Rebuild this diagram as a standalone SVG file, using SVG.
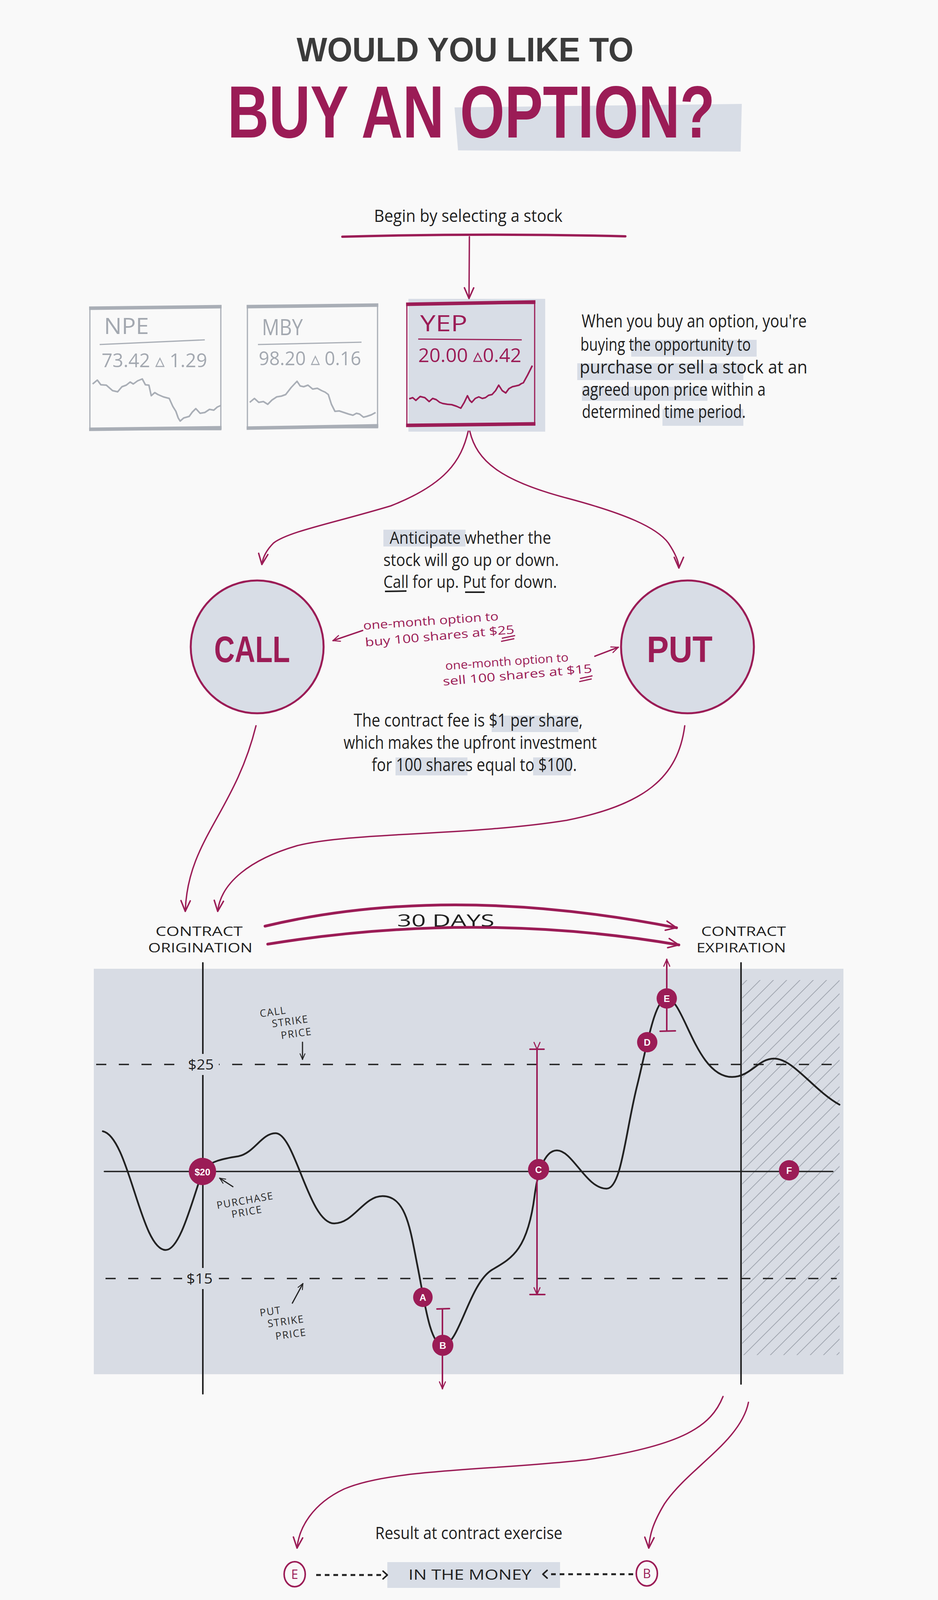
<svg xmlns="http://www.w3.org/2000/svg" width="2400" height="5216" viewBox="0 0 2400 5216">
<defs>
<style>
.hand{font-family:"Open Sans","Liberation Sans",sans-serif;fill:#1f1f1f;}
.mag{fill:#9b1c56;}
.hl{fill:#d8dde6;}
.mline{fill:none;stroke:#9b1c56;stroke-linecap:round;stroke-linejoin:round;}
.kline{fill:none;stroke:#222;stroke-linecap:round;stroke-linejoin:round;}
.gbox{fill:none;stroke:#a9aeb6;stroke-width:3;}
.gtxt{font-family:"Open Sans","Liberation Sans",sans-serif;fill:#a3a8b0;}
.cap{font-family:"Liberation Sans",sans-serif;font-weight:bold;}
.small{font-family:"Open Sans","Liberation Sans",sans-serif;fill:#2a2a2a;font-size:26px;letter-spacing:2px;}
.dot{fill:#9b1c56;}
.dott{font-family:"Liberation Sans",sans-serif;font-weight:bold;fill:#fff;font-size:24px;text-anchor:middle;}
.oc{fill:none;stroke:#9b1c56;stroke-width:4;}
.oct{font-family:"Open Sans","Liberation Sans",sans-serif;fill:#9b1c56;font-size:32px;text-anchor:middle;}
.res{font-family:"Open Sans","Liberation Sans",sans-serif;fill:#1f1f1f;font-size:36px;}
.dash{fill:none;stroke:#222;stroke-width:5;stroke-dasharray:12 10;}
.foot{font-family:Lato,"Open Sans","Liberation Sans",sans-serif;font-weight:300;fill:#1f1f1f;font-size:44px;}
</style>
<marker id="av" viewBox="0 0 20 20" refX="18" refY="10" markerWidth="34" markerHeight="34" markerUnits="userSpaceOnUse" orient="auto">
<path d="M2,3 L18,10 L2,17" fill="none" stroke="#9b1c56" stroke-width="2.2" stroke-linecap="round" stroke-linejoin="round"/>
</marker>
<marker id="avs" viewBox="0 0 20 20" refX="18" refY="10" markerWidth="22" markerHeight="22" markerUnits="userSpaceOnUse" orient="auto">
<path d="M2,3 L18,10 L2,17" fill="none" stroke="#9b1c56" stroke-width="2.5" stroke-linecap="round" stroke-linejoin="round"/>
</marker>
<marker id="ak" viewBox="0 0 20 20" refX="18" refY="10" markerWidth="18" markerHeight="18" markerUnits="userSpaceOnUse" orient="auto">
<path d="M2,3 L18,10 L2,17" fill="none" stroke="#222" stroke-width="2.5" stroke-linecap="round" stroke-linejoin="round"/>
</marker>
<pattern id="hatch" patternUnits="userSpaceOnUse" width="34" height="34">
<path d="M0,34 L34,0 M-4,4 L4,-4 M30,38 L38,30" stroke="#a3a8b2" stroke-width="2"/>
</pattern>
<pattern id="hatch2" patternUnits="userSpaceOnUse" width="26" height="26">
<path d="M0,26 L26,0 M-4,4 L4,-4 M22,30 L30,22" stroke="#c3c8d1" stroke-width="2"/>
</pattern>
</defs>

<rect x="0" y="0" width="2400" height="5216" fill="#f9f9f9"/>

<g id="title">
<text class="cap" x="759" y="157" font-size="88" fill="#3b3b3b" textLength="862" lengthAdjust="spacingAndGlyphs">WOULD YOU LIKE TO</text>
<polygon class="hl" points="1163,275 1898,266 1895,388 1172,385"/>
<text class="cap mag" x="582" y="352" font-size="190" textLength="1247" lengthAdjust="spacingAndGlyphs">BUY AN OPTION?</text>
</g>

<g id="begin">
<text class="hand" x="957" y="568" font-size="44" textLength="482" lengthAdjust="spacingAndGlyphs">Begin by selecting a stock</text>
</g>

<g id="stock-npe">
<rect class="gbox" x="230" y="787" width="335" height="313"/>
<path d="M228,789 L567,785 M228,1099 L567,1095" stroke="#a9aeb6" stroke-width="9" fill="none"/>
<text class="gtxt" x="266" y="855" font-size="56" textLength="115" lengthAdjust="spacingAndGlyphs">NPE</text>
<path d="M255,882 L524,870" stroke="#a9aeb6" stroke-width="3" fill="none"/>
<text class="gtxt" x="260" y="940" font-size="50" textLength="270" lengthAdjust="spacingAndGlyphs">73.42 ▵ 1.29</text>
<polyline fill="none" stroke="#a9aeb6" stroke-width="4" stroke-linejoin="round" points="237,983 249,973 258,985 272,986 288,1000 301,1003 312,990 323,986 333,978 341,983 352,975 364,970 372,985 381,986 387,1013 396,1005 404,1010 418,1016 433,1020 442,1040 450,1053 456,1070 461,1078 470,1070 484,1066 492,1055 501,1046 512,1058 524,1056 536,1048 547,1050 556,1042 565,1038"/>
</g>

<g id="stock-mby">
<rect class="gbox" x="633" y="783" width="333" height="312"/>
<path d="M631,785 L968,781 M631,1096 L968,1090" stroke="#a9aeb6" stroke-width="9" fill="none"/>
<text class="gtxt" x="670" y="858" font-size="56" textLength="105" lengthAdjust="spacingAndGlyphs">MBY</text>
<path d="M660,882 L925,876" stroke="#a9aeb6" stroke-width="3" fill="none"/>
<text class="gtxt" x="662" y="935" font-size="50" textLength="262" lengthAdjust="spacingAndGlyphs">98.20 ▵ 0.16</text>
<polyline fill="none" stroke="#a9aeb6" stroke-width="4" stroke-linejoin="round" points="639,1030 651,1020 662,1030 674,1028 685,1035 696,1024 708,1016 720,1014 731,1010 745,992 760,976 768,988 777,990 788,986 800,996 812,994 823,1000 832,1004 840,1010 848,1035 857,1053 868,1052 880,1056 892,1060 903,1063 912,1058 920,1060 930,1068 938,1066 950,1062 961,1056"/>
</g>

<g id="stock-yep">
<rect class="hl" x="1045" y="765" width="350" height="340"/>
<rect x="1041" y="777" width="327" height="311" fill="none" stroke="#9b1c56" stroke-width="3"/>
<path d="M1039,779 L1370,773 M1039,1089 L1370,1085" stroke="#9b1c56" stroke-width="9" fill="none"/>
<text class="gtxt" x="1075" y="848" font-size="56" style="fill:#9b1c56" textLength="121" lengthAdjust="spacingAndGlyphs">YEP</text>
<path d="M1070,868 L1335,870" stroke="#9b1c56" stroke-width="3" fill="none"/>
<text class="gtxt" x="1070" y="927" font-size="50" style="fill:#9b1c56" textLength="264" lengthAdjust="spacingAndGlyphs">20.00 ▵0.42</text>
<polyline fill="none" stroke="#9b1c56" stroke-width="4" stroke-linejoin="round" points="1047,1021 1056,1018 1064,1025 1075,1015 1087,1018 1098,1028 1107,1020 1116,1023 1125,1030 1133,1033 1145,1035 1156,1036 1168,1040 1179,1045 1188,1030 1196,1013 1202,1025 1207,1030 1216,1020 1225,1016 1234,1020 1242,1018 1250,1012 1259,1010 1268,1000 1276,986 1285,1000 1294,1006 1302,995 1311,990 1320,988 1328,986 1334,982 1339,980 1350,960 1362,936"/>
</g>

<g id="intro-text">
<rect class="hl" x="1615" y="870" width="321" height="43"/>
<rect class="hl" x="1477" y="930" width="425" height="43"/>
<rect class="hl" x="1489" y="990" width="321" height="36"/>
<rect class="hl" x="1695" y="1047" width="207" height="43"/>
<text class="hand" x="1488" y="838" font-size="46" textLength="576" lengthAdjust="spacingAndGlyphs">When you buy an option, you're</text>
<text class="hand" x="1485" y="898" font-size="46" textLength="436" lengthAdjust="spacingAndGlyphs">buying the opportunity to</text>
<text class="hand" x="1483" y="956" font-size="46" textLength="583" lengthAdjust="spacingAndGlyphs">purchase or sell a stock at an</text>
<text class="hand" x="1489" y="1013" font-size="46" textLength="470" lengthAdjust="spacingAndGlyphs">agreed upon price within a</text>
<text class="hand" x="1489" y="1070" font-size="46" textLength="419" lengthAdjust="spacingAndGlyphs">determined time period.</text>
</g>

<g id="anticipate">
<rect class="hl" x="981" y="1356" width="210" height="43"/>
<text class="hand" x="997" y="1392" font-size="44" textLength="413" lengthAdjust="spacingAndGlyphs">Anticipate whether the</text>
<text class="hand" x="981" y="1449" font-size="44" textLength="449" lengthAdjust="spacingAndGlyphs">stock will go up or down.</text>
<text class="hand" x="981" y="1505" font-size="44" textLength="444" lengthAdjust="spacingAndGlyphs">Call for up. Put for down.</text>
<path d="M985,1514 L1040,1513 M1190,1516 L1240,1516" stroke="#1f1f1f" stroke-width="4" fill="none"/>
</g>

<g id="call-node">
<circle cx="658" cy="1656" r="170" fill="#d8dde6" stroke="#9b1c56" stroke-width="5"/>
<text class="cap mag" x="548" y="1695" font-size="94" textLength="194" lengthAdjust="spacingAndGlyphs">CALL</text>
</g>

<g id="put-node">
<circle cx="1759" cy="1656" r="170" fill="#d8dde6" stroke="#9b1c56" stroke-width="5"/>
<text class="cap mag" x="1655" y="1695" font-size="94" textLength="168" lengthAdjust="spacingAndGlyphs">PUT</text>
</g>

<g id="call-note">
<text class="hand mag" x="930" y="1612" font-size="30" transform="rotate(-4 930 1612)" textLength="347" lengthAdjust="spacingAndGlyphs">one-month option to</text>
<text class="hand mag" x="935" y="1655" font-size="30" transform="rotate(-5 935 1655)" textLength="383" lengthAdjust="spacingAndGlyphs">buy 100 shares at $25</text>
<path d="M1284,1634 L1318,1627 M1282,1642 L1316,1635" stroke="#9b1c56" stroke-width="3" fill="none"/>
</g>

<g id="put-note">
<text class="hand mag" x="1140" y="1715" font-size="30" transform="rotate(-4 1140 1715)" textLength="316" lengthAdjust="spacingAndGlyphs">one-month option to</text>
<text class="hand mag" x="1134" y="1755" font-size="30" transform="rotate(-5 1134 1755)" textLength="383" lengthAdjust="spacingAndGlyphs">sell 100 shares at $15</text>
<path d="M1484,1737 L1516,1730 M1482,1745 L1514,1738" stroke="#9b1c56" stroke-width="3" fill="none"/>
</g>

<g id="fee-text">
<rect class="hl" x="1258" y="1832" width="222" height="42"/>
<rect class="hl" x="1012" y="1939" width="184" height="46"/>
<rect class="hl" x="1364" y="1939" width="97" height="46"/>
<text class="hand" x="905" y="1860" font-size="46" textLength="586" lengthAdjust="spacingAndGlyphs">The contract fee is $1 per share,</text>
<text class="hand" x="879" y="1917" font-size="46" textLength="648" lengthAdjust="spacingAndGlyphs">which makes the upfront investment</text>
<text class="hand" x="951" y="1974" font-size="46" textLength="525" lengthAdjust="spacingAndGlyphs">for 100 shares equal to $100.</text>
</g>

<g id="timeline-labels">
<text class="hand" x="398" y="2396" font-size="32" textLength="223" lengthAdjust="spacingAndGlyphs">CONTRACT</text>
<text class="hand" x="379" y="2438" font-size="32" textLength="267" lengthAdjust="spacingAndGlyphs">ORIGINATION</text>
<text class="hand" x="1794" y="2396" font-size="32" textLength="217" lengthAdjust="spacingAndGlyphs">CONTRACT</text>
<text class="hand" x="1782" y="2438" font-size="32" textLength="229" lengthAdjust="spacingAndGlyphs">EXPIRATION</text>
<text class="hand" x="1016" y="2372" font-size="44" textLength="249" lengthAdjust="spacingAndGlyphs">30 DAYS</text>
</g>

<g id="chart">
<rect x="240" y="2480" width="1918" height="1038" fill="#d8dce4"/>
<rect x="1899" y="2509" width="249" height="960" fill="url(#hatch)"/>
<line class="kline" x1="519" y1="2465" x2="519" y2="3568" stroke-width="4"/>
<line class="kline" x1="1896" y1="2465" x2="1896" y2="3543" stroke-width="4"/>
<line class="kline" x1="267" y1="2999" x2="2131" y2="2999" stroke-width="3.5"/>
<line x1="246" y1="2725" x2="2141" y2="2725" stroke="#222" stroke-width="3.5" stroke-dasharray="26 32"/>
<line x1="270" y1="3273" x2="2141" y2="3273" stroke="#222" stroke-width="3.5" stroke-dasharray="26 32"/>
<rect x="470" y="2698" width="90" height="54" fill="#d8dce4"/>
<rect x="466" y="3246" width="90" height="54" fill="#d8dce4"/>
<text class="hand" x="481" y="2738" font-size="36" textLength="66" lengthAdjust="spacingAndGlyphs">$25</text>
<text class="hand" x="477" y="3286" font-size="36" textLength="67" lengthAdjust="spacingAndGlyphs">$15</text>
<path class="kline" stroke-width="4.5" d="M263,2896 C330,2910 360,3200 424,3200 C460,3200 490,3080 518,2999 C530,2975 570,2966 610,2960 C650,2952 670,2901 705,2901 C755,2901 790,3132 855,3132 C905,3132 930,3062 979,3062 C1040,3062 1050,3150 1068,3240 C1086,3330 1100,3444 1133,3444 C1175,3444 1200,3285 1260,3250 C1310,3221 1350,3200 1368,3060 C1374,3013 1390,2945 1425,2945 C1465,2945 1500,3043 1552,3043 C1590,3043 1600,2900 1630,2780 C1655,2680 1675,2556 1706,2556 C1750,2556 1780,2757 1873,2757 C1920,2757 1940,2710 1980,2710 C2030,2710 2080,2790 2148,2828"/>
<text class="small" x="666" y="2604" transform="rotate(-8 666 2604)">CALL</text>
<text class="small" x="697" y="2630" transform="rotate(-8 697 2630)">STRIKE</text>
<text class="small" x="720" y="2660" transform="rotate(-8 720 2660)">PRICE</text>
<line class="kline" x1="774" y1="2668" x2="774" y2="2712" stroke-width="3" marker-end="url(#ak)"/>
<text class="small" x="556" y="3095" transform="rotate(-10 556 3095)">PURCHASE</text>
<text class="small" x="594" y="3118" transform="rotate(-10 594 3118)">PRICE</text>
<line class="kline" x1="596" y1="3038" x2="562" y2="3016" stroke-width="3" marker-end="url(#ak)"/>
<text class="small" x="666" y="3370" transform="rotate(-8 666 3370)">PUT</text>
<text class="small" x="686" y="3398" transform="rotate(-8 686 3398)">STRIKE</text>
<text class="small" x="706" y="3430" transform="rotate(-8 706 3430)">PRICE</text>
<line class="kline" x1="748" y1="3336" x2="775" y2="3286" stroke-width="3" marker-end="url(#ak)"/>
</g>

<g id="range-markers">
<line class="mline" x1="1132" y1="3351" x2="1132" y2="3555" stroke-width="4" marker-end="url(#avs)"/>
<line class="mline" x1="1118" y1="3351" x2="1150" y2="3350" stroke-width="4"/>
<line class="mline" x1="1374" y1="2686" x2="1374" y2="3314" stroke-width="4" marker-start="url(#avs)" marker-end="url(#avs)"/>
<line class="mline" x1="1356" y1="2686" x2="1392" y2="2686" stroke-width="4"/>
<line class="mline" x1="1356" y1="3314" x2="1394" y2="3314" stroke-width="4"/>
<line class="mline" x1="1706" y1="2639" x2="1706" y2="2456" stroke-width="4" marker-end="url(#avs)"/>
<line class="mline" x1="1689" y1="2640" x2="1728" y2="2639" stroke-width="4"/>
</g>

<g id="point-20"><circle class="dot" cx="518" cy="2999" r="35"/><text class="dott" x="518" y="3009" font-size="28">$20</text></g>
<g id="point-a"><circle class="dot" cx="1082" cy="3321" r="25"/><text class="dott" x="1082" y="3330">A</text></g>
<g id="point-b"><circle class="dot" cx="1133" cy="3444" r="27"/><text class="dott" x="1133" y="3453">B</text></g>
<g id="point-c"><circle class="dot" cx="1378" cy="2994" r="27"/><text class="dott" x="1378" y="3003">C</text></g>
<g id="point-d"><circle class="dot" cx="1656" cy="2668" r="26"/><text class="dott" x="1656" y="2677">D</text></g>
<g id="point-e"><circle class="dot" cx="1706" cy="2556" r="26"/><text class="dott" x="1706" y="2565">E</text></g>
<g id="point-f"><circle class="dot" cx="2019" cy="2996" r="26"/><text class="dott" x="2019" y="3005">F</text></g>

<g id="connectors">
<path class="mline" stroke-width="6" d="M876,606 Q1240,596 1600,605"/>
<line class="mline" x1="1201" y1="606" x2="1200" y2="764" stroke-width="3.5" marker-end="url(#av)"/>
<path class="mline" stroke-width="3.5" d="M1198,1104 C1180,1180 1140,1240 1000,1295 C850,1340 740,1360 700,1390 C680,1410 672,1430 670,1445" marker-end="url(#av)"/>
<path class="mline" stroke-width="3.5" d="M1202,1104 C1220,1180 1280,1230 1450,1275 C1600,1315 1680,1350 1710,1390 C1730,1420 1737,1440 1737,1454" marker-end="url(#av)"/>
<line class="mline" x1="928" y1="1614" x2="852" y2="1640" stroke-width="3.5" marker-end="url(#avs)"/>
<line class="mline" x1="1522" y1="1680" x2="1582" y2="1657" stroke-width="3.5" marker-end="url(#avs)"/>
<path class="mline" stroke-width="3.5" d="M655,1858 C600,2080 480,2150 474,2333" marker-end="url(#av)"/>
<path class="mline" stroke-width="3.5" d="M1752,1858 C1735,1990 1650,2060 1450,2100 C1200,2140 900,2130 760,2165 C640,2200 565,2260 557,2333" marker-end="url(#av)"/>
<path class="mline" stroke-width="7" d="M678,2371 Q1144,2260 1731,2375" marker-end="url(#av)"/>
<path class="mline" stroke-width="7" d="M685,2417 Q1220,2330 1737,2419" marker-end="url(#av)"/>
<path class="mline" stroke-width="3.5" d="M1850,3575 C1820,3650 1750,3700 1500,3737 C1250,3765 1000,3760 880,3812 C800,3850 765,3910 760,3963" marker-end="url(#av)"/>
<path class="mline" stroke-width="3.5" d="M1915,3590 C1895,3690 1760,3760 1700,3850 C1670,3900 1662,3930 1660,3963" marker-end="url(#av)"/>
</g>

<g id="results-title">
<text class="hand" x="960" y="3940" font-size="44" textLength="479" lengthAdjust="spacingAndGlyphs">Result at contract exercise</text>
</g>

<g id="call-label">
<polygon class="hl" points="336,4135 603,4128 600,4190 340,4196"/>
<text class="cap mag" x="379" y="4170" font-size="90" textLength="206" lengthAdjust="spacingAndGlyphs">CALL</text>
</g>
<g id="put-label">
<polygon class="hl" points="1821,4133 2057,4130 2055,4190 1823,4193"/>
<text class="cap mag" x="1857" y="4167" font-size="90" textLength="164" lengthAdjust="spacingAndGlyphs">PUT</text>
</g>

<g id="row-in-the-money">
<rect class="hl" x="991" y="3999" width="442" height="66"/>
<text class="res" x="1045" y="4044" textLength="315" lengthAdjust="spacingAndGlyphs">IN THE MONEY</text>
<ellipse class="oc" cx="754" cy="4030" rx="27" ry="32"/><text class="oct" x="754" y="4042">E</text>
<ellipse class="oc" cx="1655" cy="4028" rx="27" ry="32"/><text class="oct" x="1655" y="4040">B</text>
<line class="dash" x1="809" y1="4032" x2="975" y2="4032"/>
<polyline class="kline" stroke-width="4" points="980,4022 991,4032 980,4042"/>
<polyline class="kline" stroke-width="4" points="1400,4020 1389,4030 1400,4040"/>
<line class="dash" x1="1410" y1="4030" x2="1620" y2="4030"/>
</g>

<g id="row-break-even">
<rect class="hl" x="1003" y="4111" width="424" height="67"/>
<text class="res" x="1063" y="4156" textLength="273" lengthAdjust="spacingAndGlyphs">BREAK EVEN</text>
<ellipse class="oc" cx="754" cy="4142" rx="27" ry="32"/><text class="oct" x="754" y="4154">D</text>
<ellipse class="oc" cx="1651" cy="4142" rx="27" ry="32"/><text class="oct" x="1651" y="4154">A</text>
<line class="dash" x1="803" y1="4144" x2="1000" y2="4144"/>
<polyline class="kline" stroke-width="4" points="1004,4134 1015,4144 1004,4154"/>
<polyline class="kline" stroke-width="4" points="1398,4132 1387,4142 1398,4152"/>
<line class="dash" x1="1408" y1="4143" x2="1618" y2="4143"/>
</g>

<g id="row-out-of-the-money">
<rect class="hl" x="979" y="4218" width="454" height="72"/>
<text class="res" x="997" y="4267" textLength="406" lengthAdjust="spacingAndGlyphs">OUT OF THE MONEY</text>
<ellipse class="oc" cx="706" cy="4253" rx="27" ry="32"/><text class="oct" x="706" y="4265">A</text>
<ellipse class="oc" cx="754" cy="4253" rx="27" ry="32"/><text class="oct" x="754" y="4265">B</text>
<ellipse class="oc" cx="803" cy="4253" rx="27" ry="32"/><text class="oct" x="803" y="4265">C</text>
<line class="dash" x1="851" y1="4254" x2="945" y2="4254"/>
<polyline class="kline" stroke-width="4" points="950,4244 961,4254 950,4264"/>
<polyline class="kline" stroke-width="4" points="1456,4244 1445,4254 1456,4264"/>
<line class="dash" x1="1466" y1="4254" x2="1566" y2="4254"/>
<ellipse class="oc" cx="1600" cy="4253" rx="27" ry="32"/><text class="oct" x="1600" y="4265">C</text>
<ellipse class="oc" cx="1651" cy="4253" rx="27" ry="32"/><text class="oct" x="1651" y="4265">D</text>
<ellipse class="oc" cx="1700" cy="4253" rx="27" ry="32"/><text class="oct" x="1700" y="4265">E</text>
</g>

<g id="expired-note">
<ellipse cx="1205" cy="4522" rx="100" ry="88" fill="url(#hatch2)"/>
<ellipse cx="1201" cy="4513" rx="26" ry="29" fill="#f9f9f9" stroke="#9b1c56" stroke-width="4"/>
<text class="oct" x="1201" y="4524">F</text>
<text class="hand" x="885" y="4595" font-size="44" textLength="638" lengthAdjust="spacingAndGlyphs">If contract expired before exercised,</text>
<text class="hand" x="903" y="4650" font-size="44" textLength="602" lengthAdjust="spacingAndGlyphs">the fee (total of $100) is forfeited.</text>
</g>

<g id="footer">
<path class="mline" stroke-width="6" d="M805,4896 Q1220,4886 1637,4896"/>
<text class="foot" x="426" y="5023" textLength="1508" lengthAdjust="spacingAndGlyphs">For illustrative purposes only to show general mechanics of investing in options.</text>
<text class="foot" x="353" y="5069" textLength="1652" lengthAdjust="spacingAndGlyphs">Not intended as investment advice and should not be relied on for investment decisions.</text>
<text class="foot" x="422" y="5115" textLength="1515" lengthAdjust="spacingAndGlyphs">Investing in an options strategy involves risk.  All investments are subject to loss.</text>
</g>
</svg>
